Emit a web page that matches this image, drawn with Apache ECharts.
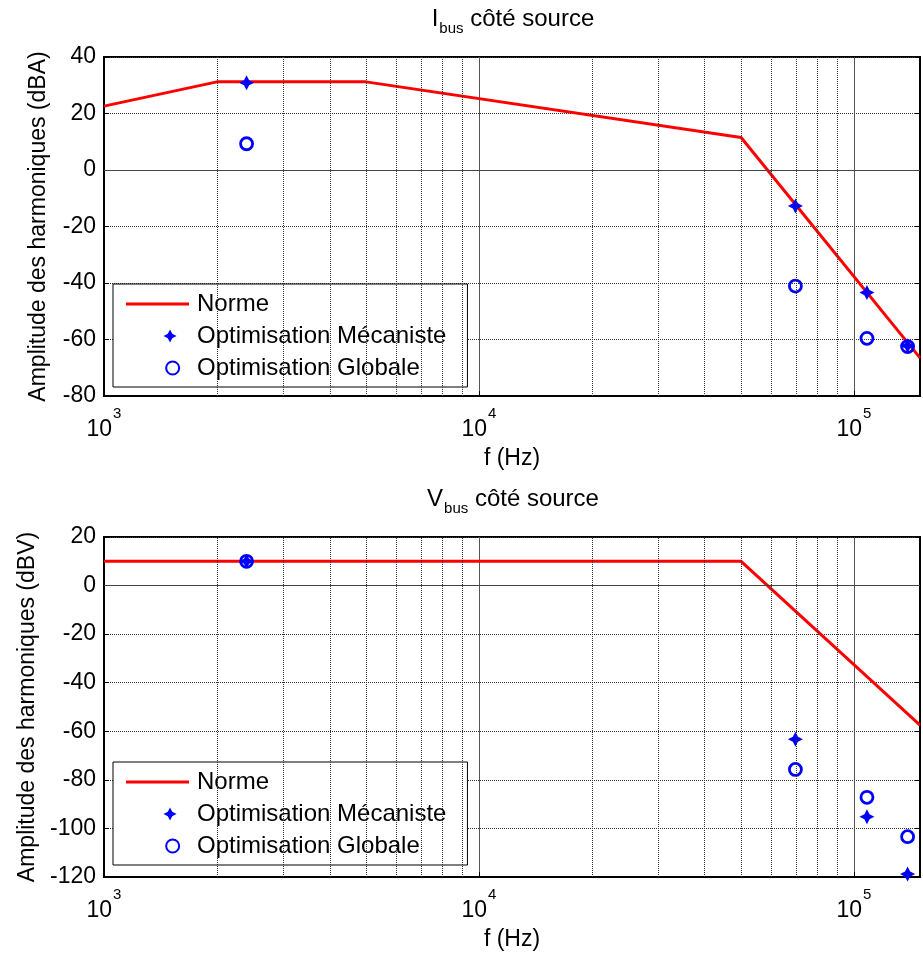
<!DOCTYPE html>
<html><head><meta charset="utf-8">
<script src="https://cdn.jsdelivr.net/npm/echarts@6/dist/echarts.min.js"></script>
<style>html,body{margin:0;padding:0;background:#fff;overflow:hidden}#c{width:923px;height:954px}</style>
</head><body><div id="c"></div>
<script>
// ---------- data ----------
const seriesNames = ['Norme', 'Optimisation Mécaniste', 'Optimisation Globale'];
const titlesSub = ['I', 'V'];
const yNames = ['Amplitude des harmoniques (dBA)', 'Amplitude des harmoniques (dBV)'];
const xName = 'f (Hz)';

const freqNormeI = [1000, 2000, 5000, 50000, 150000];
const normeI     = [22.6, 31.2, 31.2, 11.5, -66.5];
const freqNormeV = [1000, 50000, 150000];
const normeV     = [10, 10, -57.5];

const freqHarm = [2400, 69800, 108300, 139000];
const mecaI    = [30.9, -12.7, -43.4, -62.2];
const globI    = [9.3, -41.1, -59.6, -62.5];
const mecaV    = [10, -63.3, -95.2, -118.8];
const globV    = [10, -75.7, -87.2, -103.4];

const yRangeI = [-80, 40];
const yRangeV = [-120, 20];
const yStep = 20;
const xRange = [1000, 150000];
const minorGridF = [2000,3000,4000,5000,6000,7000,8000,9000,20000,30000,40000,50000,60000,70000,80000,90000];
const refLevels = [0];

// ---------- chart ----------
const FONT = 'Liberation Sans, Arial, Helvetica, sans-serif';
const STAR_SHAPE = 'M0,-7 L2.4,-2.4 L7,0 L2.4,2.4 L0,7 L-2.4,2.4 L-7,0 L-2.4,-2.4 Z';
const RING_SHAPE = 'M-6,0 A6,6 0 1,0 6,0 A6,6 0 1,0 -6,0 Z';
const PAD = 'M-34,0 L-34,0.001 Z ';
const BLUE = '#0000ff', RED = '#ff0000';
const pairs = (xs, ys) => xs.map((x, i) => [x, ys[i]]);

const gridTops = [57, 537];
const gridHeights = [339, 340];
const yRanges = [yRangeI, yRangeV];
const normeData = [pairs(freqNormeI, normeI), pairs(freqNormeV, normeV)];
const mecaData = [pairs(freqHarm, mecaI), pairs(freqHarm, mecaV)];
const globData = [pairs(freqHarm, globI), pairs(freqHarm, globV)];

const grid = [], xAxis = [], yAxis = [], series = [], title = [], legend = [];
for (let g = 0; g < 2; g++) {
  grid.push({left: 104, right: -1, top: gridTops[g], height: gridHeights[g], show: true,
    backgroundColor: '#fff', borderColor: '#000', borderWidth: 2});
  xAxis.push({
    type: 'log', logBase: 10, gridIndex: g, min: xRange[0], max: xRange[1],
    axisLine: {show: true, onZero: false, lineStyle: {color: '#000', width: 2}},
    axisTick: {show: true, inside: true, length: 5, lineStyle: {color: '#000'}},
    axisLabel: {
      margin: 10, color: '#000',
      formatter: v => {
        const e = Math.round(Math.log10(v));
        return Math.abs(Math.pow(10, e) - v) < 1e-6 * v ? '{b|10}{s|' + e + '}' : '';
      },
      rich: {
        b: {fontSize: 23, color: '#000', fontFamily: FONT, verticalAlign: 'bottom', padding: [12, 0, 0, 0]},
        s: {fontSize: 15, color: '#000', fontFamily: FONT, verticalAlign: 'top', padding: [0, 0, 0, 1]}
      }
    },
    splitLine: {show: true, lineStyle: {color: '#555', width: 1}},
    name: xName, nameLocation: 'middle', nameGap: 51,
    nameTextStyle: {fontSize: 23, color: '#000', fontFamily: FONT}
  });
  yAxis.push({
    type: 'value', gridIndex: g, min: yRanges[g][0], max: yRanges[g][1], interval: yStep,
    axisLine: {show: true, lineStyle: {color: '#000', width: 2}},
    axisTick: {show: true, inside: true, length: 5, lineStyle: {color: '#000'}},
    axisLabel: {fontSize: 23, color: '#000', fontFamily: FONT, margin: 8},
    splitLine: {show: true, lineStyle: {type: 'dotted', color: '#333', width: 1}},
    name: yNames[g], nameLocation: 'middle', nameGap: 54, nameRotate: 90,
    nameTextStyle: {fontSize: 23, color: '#000', fontFamily: FONT}
  });
  yAxis.push({
    type: 'value', gridIndex: g, position: 'right', min: yRanges[g][0], max: yRanges[g][1], interval: yStep,
    axisLine: {show: true, lineStyle: {color: '#000', width: 2}},
    axisTick: {show: true, inside: true, length: 5, lineStyle: {color: '#000'}},
    axisLabel: {show: false}, splitLine: {show: false}
  });
  // grid helper lines
  series.push({
    type: 'line', name: 'grid' + g, xAxisIndex: g, yAxisIndex: 2 * g, data: [], z: 1, silent: true,
    markLine: {
      silent: true, symbol: ['none', 'none'], label: {show: false}, animation: false,
      lineStyle: {type: 'dotted', color: '#333', width: 1},
      data: minorGridF.map(v => ({xAxis: v})).concat(
        refLevels.map(v => ({yAxis: v, lineStyle: {type: 'solid', color: '#444', width: 1}})))
    }
  });
  series.push({
    type: 'line', name: seriesNames[0], xAxisIndex: g, yAxisIndex: 2 * g, data: normeData[g],
    symbol: 'none', lineStyle: {color: RED, width: 3}, itemStyle: {color: RED}, z: 2
  });
  series.push({
    type: 'scatter', name: seriesNames[1], xAxisIndex: g, yAxisIndex: 2 * g, data: mecaData[g],
    symbol: 'path://' + STAR_SHAPE, symbolSize: 15, itemStyle: {color: BLUE, opacity: 1}, z: 3
  });
  series.push({
    type: 'scatter', name: seriesNames[2], xAxisIndex: g, yAxisIndex: 2 * g, data: globData[g],
    symbol: 'circle', symbolSize: 12,
    itemStyle: {color: 'rgba(0,0,0,0)', borderColor: BLUE, borderWidth: 2.8, opacity: 1}, z: 4
  });
  title.push({
    text: '{m|' + titlesSub[g] + '}{s|bus}{m| côté source}',
    left: 508, top: 2 + (gridTops[g] - 57), textAlign: 'center',
    textStyle: {
      fontWeight: 'normal',
      rich: {
        m: {fontSize: 24, color: '#000', fontFamily: FONT, fontWeight: 'normal', verticalAlign: 'top'},
        s: {fontSize: 15, color: '#000', fontFamily: FONT, fontWeight: 'normal', verticalAlign: 'top', padding: [14, 0, 0, 1]}
      }
    }
  });
  legend.push({
    data: [
      {name: seriesNames[0], icon: 'path://M0,0 L63,0 L63,3 L0,3 Z'},
      {name: seriesNames[1], icon: 'path://' + PAD + STAR_SHAPE},
      {name: seriesNames[2], icon: 'path://' + PAD + RING_SHAPE}
    ],
    left: 113, top: g === 0 ? 284 : 762, orient: 'vertical',
    itemWidth: 63, itemHeight: 13, itemGap: 8, padding: [8, 21, 7, 13],
    backgroundColor: '#fff', borderColor: '#000', borderWidth: 1, selectedMode: false,
    textStyle: {fontSize: 24, color: '#000', fontFamily: FONT, padding: [0, 0, 0, 3]}
  });
}

const chart = echarts.init(document.getElementById('c'), null, {renderer: 'canvas'});
chart.setOption({animation: false, backgroundColor: '#fff', grid, xAxis, yAxis, series, title, legend});
</script></body></html>
